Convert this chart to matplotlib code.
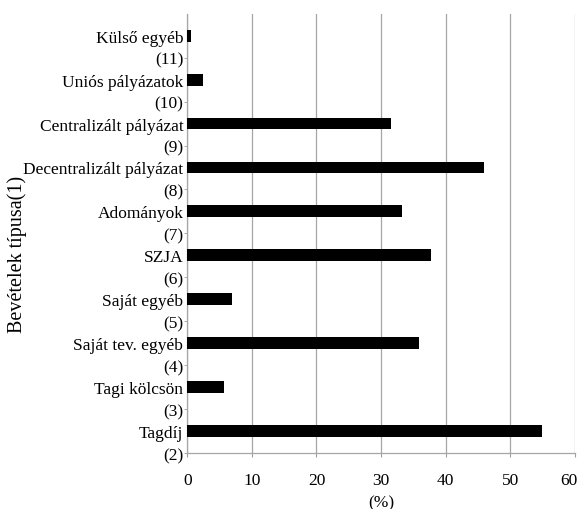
import numpy as np
import matplotlib.pyplot as plt
from matplotlib.transforms import ScaledTranslation

plt.rcParams['font.family'] = ['Liberation Serif', 'DejaVu Serif']

categories = [
    "Tagdíj",
    "Tagi kölcsön",
    "Saját tev. egyéb",
    "Saját egyéb",
    "SZJA",
    "Adományok",
    "Decentralizált pályázat",
    "Centralizált pályázat",
    "Uniós pályázatok",
    "Külső egyéb",
]
codes = ["(2)", "(3)", "(4)", "(5)", "(6)", "(7)", "(8)", "(9)", "(10)", "(11)"]
values = [54.9, 5.6, 35.8, 6.9, 37.8, 33.3, 45.9, 31.5, 2.5, 0.5]

fs = 12.5

fig = plt.figure(figsize=(5.8, 5.1), dpi=100)
ax = fig.add_axes([0.323, 0.110, 0.668, 0.861])

y = np.arange(len(categories))
ax.barh(y, values, height=0.27, color="black", zorder=3)

ax.set_xlim(0, 60)
ax.set_ylim(-0.5, len(categories) - 0.5)
ax.set_xticks(np.arange(0, 61, 10))

ax.set_yticks(y)
ax.set_yticklabels(categories)
ax.set_yticks(y - 0.5, minor=True)
ax.set_yticklabels(codes, minor=True)

ax.tick_params(axis="y", which="major", length=0, pad=2.9, labelsize=fs)
ax.tick_params(axis="y", which="minor", length=2, color="#a0a0a0", pad=0.9, labelsize=fs)
ax.tick_params(axis="x", length=3, color="#a0a0a0", pad=10.5, labelsize=fs)

# last tick label nudged inward so it stays inside the figure
last = ax.get_xticklabels()[-1]
last.set_transform(last.get_transform() + ScaledTranslation(-6 / 100, 0, fig.dpi_scale_trans))

ax.grid(axis="x", color="#a6a6a6", linewidth=0.9, zorder=0)

for side in ["top", "right"]:
    ax.spines[side].set_visible(False)
for side in ["left", "bottom"]:
    ax.spines[side].set_color("#a6a6a6")
    ax.spines[side].set_linewidth(0.9)

ax.set_xlabel("(%)", fontsize=fs, labelpad=4.5)
ax.set_ylabel("Bevételek típusa(1)", fontsize=14.5)
ax.yaxis.set_label_coords(-0.413, 0.455)

fig.savefig("out.png", dpi=100)
